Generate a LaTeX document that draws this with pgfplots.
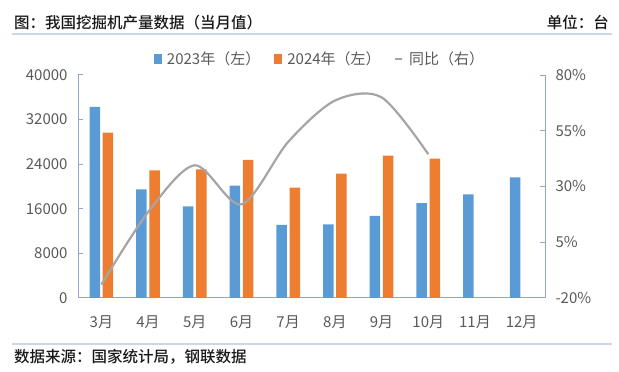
\documentclass[border=0pt]{standalone}
\usepackage{pgfplots}
\pgfplotsset{compat=1.18}
\usepackage{fontspec}
\setmainfont{Noto Sans CJK SC}
\newfontfamily\tfont{Noto Sans CJK SC Medium}
\definecolor{c23}{HTML}{5B9BD5}
\definecolor{c24}{HTML}{ED7D31}
\definecolor{cyoy}{HTML}{A5A5A5}
\definecolor{axc}{HTML}{8FA7CC}
\definecolor{tickc}{HTML}{595959}
\definecolor{hdr}{HTML}{CAD6EA}
\begin{document}
\begin{tikzpicture}
\path[use as bounding box] (0bp,0bp) rectangle (619bp,372bp);
% header and footer
\node[anchor=west,inner sep=0,font=\fontsize{15.5bp}{18bp}\selectfont\tfont,text=black!90] at (14bp,349.5bp) {图：我国挖掘机产量数据（当月值）};
\node[anchor=east,inner sep=0,font=\fontsize{15.5bp}{18bp}\selectfont\tfont,text=black!90] at (609bp,349.5bp) {单位：台};
\draw[hdr,line width=1.5bp] (12bp,338bp) -- (612bp,338bp);
\draw[hdr,line width=1.5bp] (12bp,28bp) -- (612bp,28bp);
\node[anchor=west,inner sep=0,font=\fontsize{15.5bp}{18bp}\selectfont\tfont,text=black!90] at (14bp,15.5bp) {数据来源：国家统计局，钢联数据};

\begin{axis}[
  at={(78bp,74bp)}, anchor=south west,
  scale only axis, width=467bp, height=223bp,
  xmin=-0.5, xmax=9.5,
  ymin=0, ymax=40000,
  ytick={0,8000,16000,24000,32000,40000},
  scaled y ticks=false,
  xtick={0,...,9},
  xticklabels={3月,4月,5月,6月,7月,8月,9月,10月,11月,12月},
  axis y line*=left, axis x line*=bottom,
  axis line style={axc, line width=1bp, -},
  tick align=inside,
  major tick length=5bp,
  ytick style={axc, line width=1bp},
  xtick style={draw=none},
  /pgf/number format/assume math mode=true,
  /pgf/number format/1000 sep={},
  tick label style={font=\fontsize{15bp}{18bp}\selectfont, text=tickc},
  yticklabel style={xshift=-7bp},
  xticklabel style={yshift=-9bp},
  ybar, bar width=10.5bp,
  clip=false,
]
\addplot[ybar, bar shift=-6.6bp, fill=c23, draw=none] coordinates {
(0,34300) (1,19500) (2,16450) (3,20150) (4,13100) (5,13220) (6,14710) (7,17040) (8,18600) (9,21650)};
\addplot[ybar, bar shift=6.6bp, fill=c24, draw=none] coordinates {
(0,29650) (1,22900) (2,23090) (3,24760) (4,19790) (5,22300) (6,25530) (7,25000)};
\end{axis}

\begin{axis}[
  at={(78bp,74bp)}, anchor=south west,
  scale only axis, width=467bp, height=223bp,
  xmin=-0.5, xmax=9.5,
  ymin=-20, ymax=80,
  ytick={-20,5,30,55,80},
  yticklabel={\pgfmathprintnumber{\tick}\%},
  axis y line*=right, axis x line=none,
  axis line style={axc, line width=1bp, -},
  tick align=inside,
  major tick length=5bp,
  ytick style={axc, line width=1bp},
  /pgf/number format/assume math mode=true,
  tick label style={font=\fontsize{15bp}{18bp}\selectfont, text=tickc},
  yticklabel style={xshift=7bp},
  legend columns=3,
  legend style={at={(0.162,1.0717)}, anchor=west, draw=none, fill=none, inner sep=0pt,
    font=\fontsize{15bp}{18bp}\selectfont, text=tickc,
    /tikz/every odd column/.append style={column sep=6bp},
    /tikz/every even column/.append style={column sep=14bp},
    nodes={inner sep=0bp}},
  clip=false,
]
\addlegendimage{legend image code/.code={\fill[c23] (0,-4.5bp) rectangle (6.7bp,4.5bp);}}
\addlegendentry{2023年（左）}
\addlegendimage{legend image code/.code={\fill[c24] (0,-4.5bp) rectangle (6.7bp,4.5bp);}}
\addlegendentry{2024年（左）}
\addplot[cyoy, line width=2.2bp, smooth, tension=0.5, mark=none,
  legend image code/.code={\draw[cyoy, line width=1.5bp] (0,0) -- (7bp,0);}] coordinates {
(0,-14) (1,18.5) (2,39.5) (3,22) (4,50) (5,68.5) (6,70) (7,44.5)};
\addlegendentry{同比（右）}
\end{axis}
\end{tikzpicture}
\end{document}
